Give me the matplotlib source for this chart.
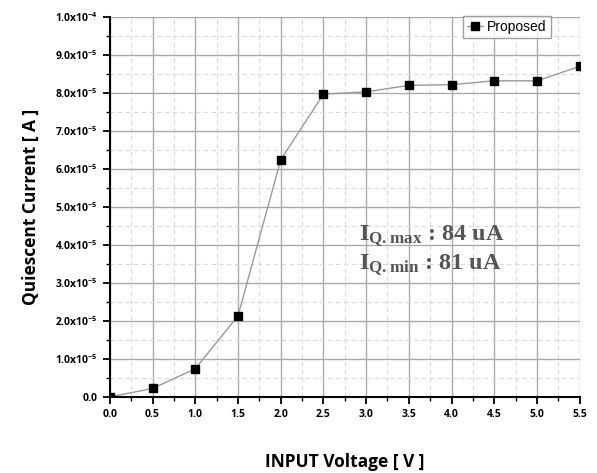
import numpy as np
import matplotlib
matplotlib.use("Agg")
import matplotlib.pyplot as plt
from matplotlib.ticker import MultipleLocator, FixedLocator

# data
voltage = [0.0, 0.5, 1.0, 1.5, 2.0, 2.5, 3.0, 3.5, 4.0, 4.5, 5.0, 5.5]
current = [0.0, 2.2e-6, 7.4e-6, 21.3e-6, 62.4e-6, 79.7e-6, 80.3e-6,
           82.0e-6, 82.2e-6, 83.2e-6, 83.2e-6, 87.0e-6]
y_ticks = [0.0, 1e-5, 2e-5, 3e-5, 4e-5, 5e-5, 6e-5, 7e-5, 8e-5, 9e-5, 1e-4]
y_labels = ["0.0"] + [r"$\mathsf{%d.0x10^{-5}}$" % i for i in range(1, 10)] + [r"$\mathsf{1.0x10^{-4}}$"]
x_ticks = [0.0, 0.5, 1.0, 1.5, 2.0, 2.5, 3.0, 3.5, 4.0, 4.5, 5.0, 5.5]
notes = [(r"$\mathbf{I_{Q.max}}$", " : 84 uA"), (r"$\mathbf{I_{Q.min}}$", " : 81 uA")]

plt.rcParams["mathtext.fontset"] = "custom"
plt.rcParams["mathtext.sf"] = "Open Sans:bold"
plt.rcParams["mathtext.bf"] = "Liberation Serif:bold"

fig = plt.figure(figsize=(5.97, 4.73), dpi=100)
ax = fig.add_axes([0.184, 0.161, 0.787, 0.803])

ax.plot(voltage, current, color="#999999", lw=1.0, marker="s", ms=6,
        mfc="black", mec="black", label="Proposed")

ax.set_xlim(0, 5.5)
ax.set_ylim(0, 1e-4)
ax.xaxis.set_major_locator(FixedLocator(x_ticks))
ax.xaxis.set_minor_locator(MultipleLocator(0.25))
ax.yaxis.set_major_locator(FixedLocator(y_ticks))
ax.yaxis.set_minor_locator(MultipleLocator(0.5e-5))
ax.set_xticklabels(["%.1f" % v for v in x_ticks], fontsize=7.5, fontweight="bold",
                   family="Open Sans")
ax.set_yticklabels(y_labels, fontsize=7.5, fontweight="bold", family="Open Sans")

ax.grid(which="major", color="#aaaaaa", lw=1.0, ls="-")
ax.grid(which="minor", color="#d8d8d8", lw=0.8, ls=(0, (4, 3)))
ax.set_axisbelow(True)

for s in ["top", "right"]:
    ax.spines[s].set_visible(False)
for s in ["left", "bottom"]:
    ax.spines[s].set_linewidth(1.5)
ax.tick_params(which="major", direction="out", length=5, width=1.3)
ax.tick_params(which="minor", direction="out", length=3, width=1.0)

ax.set_xlabel("INPUT Voltage [ V ]", fontsize=12.5, fontweight="bold",
              family="Open Sans", labelpad=24)
ax.set_ylabel("Quiescent Current [ A ]", fontsize=12.5, fontweight="bold",
              family="Open Sans", labelpad=11)

leg = ax.legend(loc="upper right", bbox_to_anchor=(0.938, 1.003),
                prop={"family": "Liberation Sans", "size": 10},
                frameon=True, fancybox=False, handlelength=1.1,
                borderaxespad=0.0, borderpad=0.3, handletextpad=0.3,
                markerscale=0.9)
leg.get_frame().set_edgecolor("#888888")
leg.get_frame().set_linewidth(1.0)

for i, (sym, txt) in enumerate(notes):
    ax.text(0.53, 0.41 - i * 0.075, sym + txt, transform=ax.transAxes,
            fontsize=17.5, fontweight="bold", family="Liberation Serif",
            color="#555555")

fig.savefig("out.png", dpi=100)
